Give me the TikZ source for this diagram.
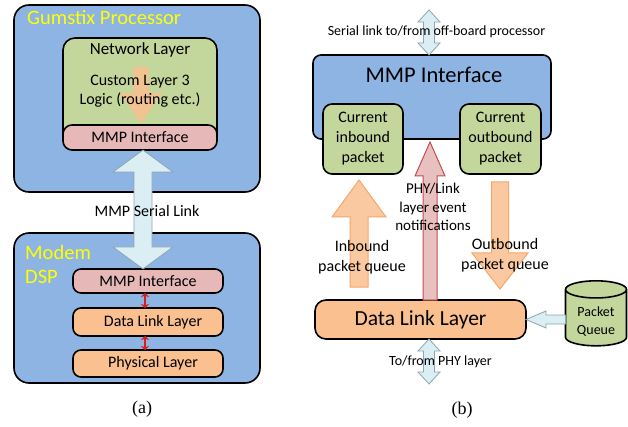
\documentclass[tikz,border=0pt]{standalone}
\usepackage{fontspec}
\setmainfont{Carlito}
\newfontfamily\capfont{Liberation Serif}
\usetikzlibrary{calc,arrows.meta,shapes.geometric}

\definecolor{boxblue}{RGB}{142,180,227}
\definecolor{boxgreen}{RGB}{195,214,155}
\definecolor{boxpink}{RGB}{230,185,184}
\definecolor{boxorange}{RGB}{250,192,144}
\definecolor{arrorange}{RGB}{247,165,105}
\definecolor{arrblue}{RGB}{219,238,244}
\definecolor{arrblueline}{RGB}{140,165,175}
\definecolor{arrredline}{RGB}{192,80,77}
\definecolor{linkred}{RGB}{215,30,30}
\definecolor{titleyellow}{RGB}{255,255,0}

% vertical block arrow: style, tail, tip, shaft half width, head half width, head length
\newcommand\varrow[6]{%
  \path[#1] let \p1=(#2), \p2=(#3), \n1={sign(\y2-\y1)} in
    ({\x1-#4},\y1) -- ({\x1-#4},{\y2-\n1*#6}) -- ({\x1-#5},{\y2-\n1*#6}) -- (\x1,\y2)
    -- ({\x1+#5},{\y2-\n1*#6}) -- ({\x1+#4},{\y2-\n1*#6}) -- ({\x1+#4},\y1) -- cycle;}
% vertical double-headed block arrow: style, end A, end B, shaft half width, head half width, head length
\newcommand\darrow[6]{%
  \path[#1] let \p1=(#2), \p2=(#3), \n1={sign(\y2-\y1)} in
    (\x1,\y1) -- ({\x1+#5},{\y1+\n1*#6}) -- ({\x1+#4},{\y1+\n1*#6}) -- ({\x1+#4},{\y2-\n1*#6})
    -- ({\x1+#5},{\y2-\n1*#6}) -- (\x1,\y2) -- ({\x1-#5},{\y2-\n1*#6}) -- ({\x1-#4},{\y2-\n1*#6})
    -- ({\x1-#4},{\y1+\n1*#6}) -- ({\x1-#5},{\y1+\n1*#6}) -- cycle;}

\tikzset{
  layerbox/.style={draw=black, line width=1.6pt, outer sep=0pt, inner sep=0pt, align=center},
  bluebox/.style={layerbox, fill=boxblue},
  greenbox/.style={layerbox, fill=boxgreen},
  pinkbox/.style={layerbox, fill=boxpink},
  orangebox/.style={layerbox, fill=boxorange},
  txt/.style={inner sep=0pt, align=center, font=\fontsize{16}{20}\selectfont},
  bigtxt/.style={inner sep=0pt, align=center, font=\fontsize{22.5}{26}\selectfont},
  ytitle/.style={inner sep=0pt, align=left, text=titleyellow, font=\fontsize{20.5}{24}\selectfont},
  caption/.style={inner sep=0pt, font=\capfont\fontsize{18}{20}\selectfont},
  orangearrow/.style={fill=boxorange, fill opacity=0.85, draw=arrorange, line width=1pt},
  softarrow/.style={fill=boxorange, fill opacity=0.85},
  bluearrow/.style={fill=arrblue, draw=arrblueline, line width=0.8pt},
  redarrow/.style={fill=boxpink, fill opacity=0.9, draw=arrredline, line width=1pt},
  redlink/.style={draw=linkred, line width=2pt, {Stealth[length=4pt,width=8pt]}-{Stealth[length=4pt,width=8pt]}},
}

\begin{document}
\begin{tikzpicture}[x=1pt, y=-1pt]
\path[use as bounding box] (0,0) rectangle (628,427);

% ---------------- (a) Gumstix processor and modem DSP ----------------
\node[bluebox, rounded corners=15pt, minimum width=246pt, minimum height=187pt] (gum) at (137,98.5) {};
\node[ytitle, anchor=west] (gumt) at (27,17) {Gumstix Processor};

\node[greenbox, rounded corners=12pt, minimum width=154pt, minimum height=112pt] (net) at (140,94) {};
\node[txt, font=\fontsize{17}{20}\selectfont] (nett) at (140,50) {Network Layer};
\coordinate (nettail) at (141,67);
\coordinate (nettip) at (141,123);
\varrow{softarrow}{nettail}{nettip}{7.5pt}{21pt}{30pt}
\node[txt, font=\fontsize{16}{19}\selectfont] (logic) at (140,91.5) {Custom Layer 3\\Logic (routing etc.)};
\node[pinkbox, rounded corners=9pt, minimum width=154pt, minimum height=25pt, font=\fontsize{16}{20}\selectfont] (mmpA) at (140,137.5) {MMP Interface};

\node[bluebox, rounded corners=15pt, minimum width=246pt, minimum height=150pt] (dsp) at (137,308) {};
\node[ytitle, anchor=west] (dspt) at (25,264) {Modem\\DSP};

\node[pinkbox, rounded corners=8pt, minimum width=150pt, minimum height=24pt, font=\fontsize{16}{20}\selectfont] (mmpB) at (148,281) {MMP Interface};
\node[orangebox, rounded corners=8pt, minimum width=150pt, minimum height=28pt, font=\fontsize{16}{20}\selectfont] (dllA) at (148,322) {\hspace{10pt}Data Link Layer};
\node[orangebox, rounded corners=8pt, minimum width=150pt, minimum height=27pt, font=\fontsize{16}{20}\selectfont] (phyA) at (148,363.5) {\hspace{10pt}Physical Layer};

\coordinate (xlink) at (145,0);
\draw[redlink] (mmpB.south -| xlink) -- (dllA.north -| xlink);
\draw[redlink] (dllA.south -| xlink) -- (phyA.north -| xlink);

% serial link between the two boards
\coordinate (xser) at (143,0);
\darrow{bluearrow}{mmpA.south -| xser}{mmpB.north -| xser}{9pt}{30pt}{22pt}
\node[txt] (serlab) at (147,211) {MMP Serial Link};

\node[caption] (capa) at (142,409) {(a)};

% ---------------- (b) MMP interface and data link layer ----------------
\node[bluebox, rounded corners=8pt, minimum width=238pt, minimum height=84pt] (mmpR) at (432,97) {};
\node[bigtxt] (mmpRt) at (434,75) {MMP Interface};
\node[greenbox, rounded corners=9pt, minimum width=80pt, minimum height=70pt, font=\fontsize{16}{20}\selectfont] (inb) at (363,139) {Current\\inbound\\packet};
\node[greenbox, rounded corners=9pt, minimum width=81pt, minimum height=70pt, font=\fontsize{16}{20}\selectfont] (outb) at (500.5,139) {Current\\outbound\\packet};

\node[orangebox, rounded corners=11pt, minimum width=211pt, minimum height=39pt, font=\fontsize{21.5}{24}\selectfont] (dllR) at (420.5,319.5) {Data Link Layer};

\node[cylinder, shape border rotate=90, aspect=0.45, draw=black, line width=1.6pt,
      cylinder uses custom fill, cylinder body fill=boxgreen, cylinder end fill=boxgreen,
      minimum width=61pt, minimum height=65pt, inner sep=0pt, outer sep=0pt, align=center,
      font=\fontsize{14}{18}\selectfont] (pq) at (596,318) {\\[-2pt]Packet\\Queue};

% off-board serial link
\coordinate (xtop) at (429,0);
\coordinate (topend) at (429,10);
\darrow{bluearrow}{topend}{mmpR.north -| xtop}{5.5pt}{11pt}{12pt}
\node[txt, font=\fontsize{14}{16}\selectfont] (toplab) at (436.5,32) {Serial link to/from off-board processor};

% event notifications up to the interface
\coordinate (xred) at (430,0);
\coordinate (redtip) at (430,142);
\varrow{redarrow}{dllR.north -| xred}{redtip}{7pt}{15pt}{34pt}
\node[txt, font=\fontsize{15}{18.5}\selectfont] (evlab) at (433,207) {PHY/Link\\layer event\\notifications};

% packet queues
\coordinate (intail) at (359,287);
\coordinate (intip) at (359,180);
\varrow{orangearrow}{intail}{intip}{9pt}{27pt}{37pt}
\node[txt] (inlab) at (362,257) {Inbound\\packet queue};

\coordinate (outtail) at (500,182);
\coordinate (outtip) at (500,289);
\varrow{orangearrow}{outtail}{outtip}{8.5pt}{28pt}{36pt}
\node[txt] (outlab) at (505,255) {Outbound\\packet queue};

% packet queue feeding the data link layer
\path[bluearrow] let \p1=(pq.west), \p2=(dllR.east) in
  (\x1,{\y2+4.5pt}) -- ({\x2+20pt},{\y2+4.5pt}) -- ({\x2+20pt},{\y2+8.5pt}) -- (\x2,\y2)
  -- ({\x2+20pt},{\y2-8.5pt}) -- ({\x2+20pt},{\y2-4.5pt}) -- (\x1,{\y2-4.5pt}) -- cycle;

% link to the physical layer
\coordinate (botend) at (429,384);
\darrow{bluearrow}{dllR.south -| xtop}{botend}{5.5pt}{11pt}{12pt}
\node[txt, font=\fontsize{14}{16}\selectfont] (botlab) at (440.5,362) {To/from PHY layer};

\node[caption] (capb) at (462,410) {(b)};
\end{tikzpicture}
\end{document}
